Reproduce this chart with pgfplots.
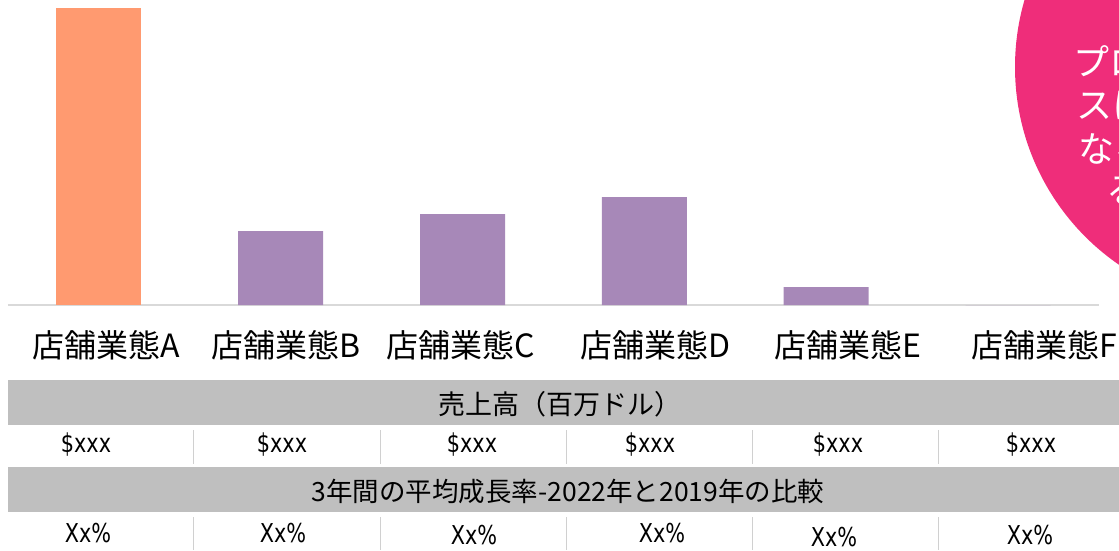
\documentclass[border=0pt]{standalone}
\usepackage{pgfplots}
\pgfplotsset{compat=1.18}
\usepackage{fontspec}
\setmainfont{Noto Sans CJK JP}
\newfontfamily\narrowfont[FakeStretch=0.8]{DejaVu Sans}
\definecolor{barorange}{HTML}{FF9A70}
\definecolor{barpurple}{HTML}{A788B8}
\definecolor{pinkc}{HTML}{EF2D7A}
\definecolor{bandgrey}{HTML}{BFBFBF}
\definecolor{sepgrey}{HTML}{D0D0D0}
\begin{document}
\begin{tikzpicture}
\useasboundingbox (0pt,0pt) rectangle (1119pt,-550pt);
\begin{axis}[
  at={(8pt,-305pt)}, anchor=south west,
  scale only axis, width=1091pt, height=305pt,
  xmin=-0.5, xmax=5.5, ymin=0, ymax=305,
  axis x line*=bottom, axis y line=none,
  x axis line style={draw=black!15, line width=2pt, -},
  xtick={0.04,1.03,1.99,3.06,4.12,5.2},
  xticklabels={店舗業態A,店舗業態B,店舗業態C,店舗業態D,店舗業態E,店舗業態F},
  major tick length=0pt, ytick=\empty,
  xticklabel style={font=\fontsize{32}{34}\selectfont, anchor=center, yshift=-40pt, inner sep=0pt},
  clip=false,
]
\addplot[ybar, bar width=85pt, bar shift=0pt, fill=barorange, draw=none] coordinates {(0,297)};
\addplot[ybar, bar width=85pt, bar shift=0pt, fill=barpurple, draw=none] coordinates {(1,74) (2,91) (3,108) (4,18) (5,0)};
\end{axis}
\begin{scope}
\clip (0pt,0pt) rectangle (1119pt,-550pt);
\fill[pinkc] (1255pt,-67pt) circle (240pt);
\begin{scope}[every node/.style={white, anchor=west, inner sep=0pt, font=\fontsize{36}{38}\selectfont}]
\node at (1073pt,-61pt) {プロセ};
\node at (1076pt,-105pt) {スに};
\node at (1078pt,-149pt) {なる};
\node at (1106pt,-191pt) {る};
\end{scope}
\end{scope}
% table
\fill[bandgrey] (8pt,-380pt) rectangle (1119pt,-425pt);
\fill[bandgrey] (8pt,-467pt) rectangle (1119pt,-512pt);
\node[font=\fontsize{27}{29}\selectfont] at (560pt,-404pt) {売上高（百万ドル）};
\node[font=\fontsize{26.5}{28}\selectfont] at (568pt,-491pt) {3年間の平均成長率-2022年と2019年の比較};
\foreach \x in {193,380,566,752,938}{
  \draw[sepgrey, line width=1pt] (\x pt,-430pt) -- (\x pt,-464pt);
  \draw[sepgrey, line width=1pt] (\x pt,-517pt) -- (\x pt,-550pt);
}
\foreach \x in {86,282,472,650,838,1031}{
  \node[font=\narrowfont\fontsize{26}{28}\selectfont] at (\x pt,-445pt) {\$xxx};
}
\foreach \x/\yy in {88/533,283/533,474/535,662/533,834/537,1030/535}{
  \node[font=\narrowfont\fontsize{26}{28}\selectfont] at (\x pt,-\yy pt) {Xx\%};
}
\end{tikzpicture}
\end{document}
